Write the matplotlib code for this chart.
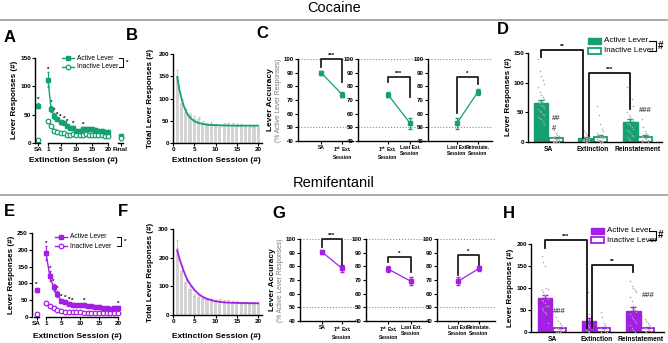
import matplotlib
matplotlib.use('Agg')
import matplotlib.pyplot as plt
import numpy as np
from matplotlib.patches import Rectangle

plt.rcParams['font.family'] = ['Liberation Sans', 'DejaVu Sans']
plt.rcParams['font.weight'] = 'bold'
plt.rcParams['axes.linewidth'] = 1.0
plt.rcParams['mathtext.default'] = 'bf'

GREEN = '#17a06f'
PURPLE = '#a41fe3'
GREY = '#d3d3d3'
DOT = '#a8a8a8'
TICK = 4.6

# ---------------- data: cocaine ----------------
coc_sa_act, coc_sa_act_err, coc_sa_in = 66, 5, 6
coc_ext_act = [112, 60, 48, 42, 37, 36, 30, 27, 27, 22, 22, 25, 25, 25, 24, 23, 22, 21, 20, 20]
coc_ext_act_err = [13, 6, 5, 4, 4, 3, 3, 3, 3, 3, 3, 3, 3, 3, 3, 3, 3, 3, 3, 3]
coc_ext_in = [38, 30, 22, 20, 18, 17, 15, 15, 16, 14, 15, 15, 16, 15, 15, 14, 14, 14, 13, 12]
coc_final_act, coc_final_in = 12, 9
coc_star_sessions = [1, 2, 3, 4, 5, 6, 7, 9, 12]

coc_total = [150, 90, 70, 62, 55, 53, 45, 42, 43, 38, 37, 40, 41, 40, 39, 38, 37, 36, 35, 33]
coc_total_err = [15, 8, 6, 6, 5, 5, 4, 4, 5, 4, 4, 4, 4, 4, 4, 4, 4, 4, 4, 4]
coc_fit_x = [1, 1.5, 2, 2.5, 3, 3.5, 4, 5, 6, 7, 8, 10, 12, 15, 20]
coc_fit_y = [148, 120, 100, 84, 72, 63, 57, 49, 45, 43, 41, 40, 39.5, 39, 39]

coc_acc = [[90, 74], [74, 53], [53, 76]]
coc_acc_err = [[1.5, 2], [2, 4], [4, 2]]
coc_brackets = [(94, 100, 83), (83.5, 87, 72), (60.5, 87, 81.5)]
coc_acc_stars = ['***', '***', '*']

coc_bar_act = [66, 7, 34]
coc_bar_act_err = [5, 1.5, 4]
coc_bar_in = [6, 9, 9]
coc_bar_in_err = [2, 2, 2]
coc_pts_act = [
    [140, 120, 112, 105, 98, 92, 85, 80, 76, 72, 68, 65, 62, 60, 58, 55, 52, 50, 48, 45, 42, 40, 38, 35, 30],
    [25, 18, 15, 12, 10, 9, 8, 7, 6, 5, 5, 4, 3, 3, 2, 2, 1, 0, 0],
    [93, 85, 75, 72, 60, 50, 45, 42, 38, 35, 32, 30, 28, 25, 22, 20, 18, 15, 12, 10, 8, 5, 3],
]
coc_pts_in = [
    [25, 20, 15, 12, 10, 8, 6, 5, 4, 3, 2, 2, 1, 1, 0, 0, 0, 0],
    [60, 45, 30, 22, 18, 15, 12, 10, 8, 6, 5, 4, 3, 2, 2, 1, 1, 0, 0],
    [38, 25, 18, 15, 12, 10, 8, 6, 5, 4, 3, 2, 2, 1, 0, 0],
]

# ---------------- data: remifentanil ----------------
rem_sa_act, rem_sa_act_err, rem_sa_in = 80, 6, 8
rem_ext_act = [190, 122, 88, 68, 48, 45, 40, 37, 35, 35, 36, 33, 32, 31, 30, 27, 26, 25, 28, 28]
rem_ext_act_err = [20, 15, 10, 8, 5, 5, 4, 4, 4, 4, 5, 4, 4, 4, 5, 4, 4, 4, 4, 4]
rem_ext_in = [42, 32, 28, 20, 17, 16, 15, 14, 14, 14, 13, 13, 13, 12, 12, 13, 12, 12, 12, 11]
rem_star_sessions = [1, 2, 3, 4, 5, 6, 7, 8, 11, 20]

rem_total = [235, 155, 115, 90, 65, 62, 55, 52, 50, 48, 50, 46, 45, 44, 42, 40, 38, 37, 40, 40]
rem_total_err = [25, 15, 12, 10, 7, 7, 6, 6, 6, 6, 6, 6, 6, 6, 6, 6, 6, 6, 6, 6]
rem_fit_x = [1, 1.5, 2, 2.5, 3, 3.5, 4, 5, 6, 7, 8, 10, 12, 15, 20]
rem_fit_y = [225, 198, 175, 154, 135, 120, 108, 88, 73, 63, 56, 48, 44, 42, 41]

rem_acc = [[90.5, 78.5], [78, 69], [69, 78.5]]
rem_acc_err = [[1.5, 2.5], [2.5, 3], [3, 2]]
rem_brackets = [(94, 100, 81), (83, 87, 76), (74, 88, 81)]
rem_acc_stars = ['***', '*', '*']

rem_bar_act = [78, 25, 48]
rem_bar_act_err = [7, 7, 8]
rem_bar_in = [8, 10, 10]
rem_bar_in_err = [2, 2, 2]
rem_pts_act = [
    [172, 160, 150, 100, 98, 95, 90, 85, 80, 75, 72, 70, 65, 60, 58, 55, 50, 45, 40, 20],
    [155, 90, 40, 30, 25, 20, 15, 12, 10, 8, 5, 3, 0],
    [115, 105, 100, 95, 90, 80, 70, 60, 50, 45, 40, 35, 30, 25, 20, 15, 10, 5, 0],
]
rem_pts_in = [
    [35, 25, 20, 15, 12, 10, 8, 5, 3, 2, 1, 0, 0],
    [45, 35, 20, 15, 10, 8, 6, 4, 2, 1, 0],
    [30, 25, 20, 15, 12, 10, 8, 6, 5, 3, 2, 0],
]

acc_labels = [['SA', '1$^{st}$ Ext.\nSession'],
              ['1$^{st}$ Ext.\nSession', 'Last Ext.\nSession'],
              ['Last Ext.\nSession', 'Reinstate.\nSession']]
group_labels = ['SA', 'Extinction', 'Reinstatement']

W, H = 668, 343
fig = plt.figure(figsize=(W / 100, H / 100), dpi=100)

ov = fig.add_axes([0, 0, 1, 1])
ov.set_xlim(0, W)
ov.set_ylim(H, 0)
ov.axis('off')


def px_axes(x0, y0, x1, y1):
    ax = fig.add_axes([x0 / W, 1 - y1 / H, (x1 - x0) / W, (y1 - y0) / H])
    ax.patch.set_alpha(0)
    ax.spines[['top', 'right']].set_visible(False)
    ax.tick_params(length=2, width=0.8, pad=1, labelsize=TICK)
    return ax


def session_panel(ax, color, sa_act, sa_err, sa_in, act, act_err, inact, stars, sa_pos, ymax, final=None):
    sess = np.arange(1, len(act) + 1)
    ax.errorbar(sess, inact, color=color, marker='o', ms=3.3, mfc='white', mew=0.9, lw=0.9, zorder=2)
    ax.errorbar(sess, act, yerr=act_err, color=color, marker='s', ms=2.3, lw=1.0,
                capsize=1, elinewidth=0.8, zorder=3)
    ax.errorbar([sa_pos], [sa_act], yerr=[sa_err], color=color, marker='s', ms=2.3, capsize=1, elinewidth=0.8)
    ax.plot([sa_pos], [sa_in], color=color, marker='o', ms=3.3, mfc='white', mew=0.9)
    ax.text(sa_pos, sa_act + sa_err + ymax * 0.01, '*', ha='center', va='bottom', fontsize=4.5)
    for s in stars:
        ax.text(s, act[s - 1] + act_err[s - 1] + ymax * 0.005, '*', ha='center', va='bottom', fontsize=4.5)
    ticks = [sa_pos, 1, 5, 10, 15, 20]
    labels = ['SA', '1', '5', '10', '15', '20']
    ax.spines['bottom'].set_visible(False)
    tr = ax.get_xaxis_transform()
    ax.plot([sa_pos - 0.6, sa_pos + 0.6], [0, 0], color='k', lw=1, transform=tr, clip_on=False)
    ax.plot([1, 20], [0, 0], color='k', lw=1, transform=tr, clip_on=False)
    if final is not None:
        fpos = final[0]
        ax.plot([fpos], [final[1]], color=color, marker='s', ms=2.3)
        ax.plot([fpos], [final[2]], color=color, marker='o', ms=3.3, mfc='white', mew=0.9)
        ax.plot([fpos - 0.8, fpos + 0.8], [0, 0], color='k', lw=1, transform=tr, clip_on=False)
        ticks.append(fpos)
        labels.append('Final')
    ax.set_xticks(ticks)
    ax.set_xticklabels(labels)
    ax.set_ylim(0, ymax)


def total_panel(ax, color, totals, errs, fx, fy, ymax, step):
    sess = np.arange(1, len(totals) + 1)
    ax.bar(sess, totals, width=0.75, color=GREY, yerr=[np.zeros(len(errs)), errs],
           error_kw=dict(ecolor='#c4c4c4', lw=0.6, capsize=1))
    ax.plot(fx, fy, color=color, lw=1.3)
    ax.set_xlim(0, 20.9)
    ax.set_xticks([0, 5, 10, 15, 20])
    ax.set_ylim(0, ymax)
    ax.set_yticks(np.arange(0, ymax + 1, step))


def acc_panel(ax, color, vals, errs, labels, bracket, stars, xlim):
    ax.axhline(100, color='#8a8a8a', ls=':', lw=0.8)
    ax.axhline(50, color='#8a8a8a', ls=':', lw=0.8)
    ax.errorbar([0, 1], vals, yerr=errs, color=color, marker='s', ms=2.3, lw=0.9,
                capsize=1.5, elinewidth=0.8)
    yl, yh, yr = bracket
    ax.plot([0, 0, 1, 1], [yl, yh, yh, yr], color='#222222', lw=1.3, clip_on=False)
    ax.text(0.5, yh + 0.8, stars, ha='center', va='bottom', fontsize=4.5)
    ax.set_ylim(40, 100)
    ax.set_yticks(range(40, 101, 10))
    ax.set_xlim(*xlim)
    ax.set_xticks([0, 1])
    ax.set_xticklabels(labels, fontsize=3.6, linespacing=1.15)
    ax.tick_params(labelsize=4.4)
    ax.tick_params(axis='x', labelsize=3.6)


def lever_bars(ax, color, act, act_err, inact, in_err, pts_act, pts_in, ymax, xlim):
    for g in range(3):
        xa, xi = g - 0.165, g + 0.165
        ax.bar(xa, act[g], width=0.33, color=color, edgecolor=color, lw=1, zorder=2)
        ax.errorbar(xa, act[g], yerr=[[0], [act_err[g]]], color=color, capsize=2, lw=1, zorder=2)
        ax.bar(xi, inact[g], width=0.30, facecolor='white', edgecolor=color, lw=1.3, zorder=2)
        ax.errorbar(xi, inact[g], yerr=[[0], [in_err[g]]], color=color, capsize=2, lw=1, zorder=2)
        for x0, pts in ((xa, pts_act[g]), (xi, pts_in[g])):
            off = ((np.arange(len(pts)) % 5) - 2) * 0.035
            ax.scatter(x0 + off, pts, s=1.2, color=DOT, zorder=4, lw=0)
    ax.set_xlim(*xlim)
    ax.set_ylim(0, ymax)
    ax.set_xticks([0, 1, 2])
    ax.set_xticklabels(group_labels, fontsize=4.8)
    ax.tick_params(axis='x', length=0, pad=3)


def bracket(ax, x0, x1, y0, yh, y1, text):
    ax.plot([x0, x0, x1, x1], [y0, yh, yh, y1], color='#111111', lw=1.3, clip_on=False, zorder=5)
    ax.text((x0 + x1) / 2, yh + 2, text, ha='center', va='bottom', fontsize=4.5)


# ---------------- cocaine row ----------------
axA = px_axes(35, 58, 125, 143)
session_panel(axA, GREEN, coc_sa_act, coc_sa_act_err, coc_sa_in, coc_ext_act, coc_ext_act_err,
              coc_ext_in, coc_star_sessions, -2.2, 150, final=(24.0, coc_final_act, coc_final_in))
axA.set_xlim(-3.1, 25.4)
axA.set_yticks([0, 50, 100, 150])

axB = px_axes(173, 54, 262, 143)
total_panel(axB, GREEN, coc_total, coc_total_err, coc_fit_x, coc_fit_y, 200, 50)

c_boxes = [(298, 353), (358, 425), (428, 492)]
c_xlims = [(-1.1, 1.52), (-1.36, 1.68), (-1.38, 1.67)]
for i, (x0, x1) in enumerate(c_boxes):
    ax = px_axes(x0, 59, x1, 141)
    acc_panel(ax, GREEN, coc_acc[i], coc_acc_err[i], acc_labels[i], coc_brackets[i], coc_acc_stars[i], c_xlims[i])

axD = px_axes(528, 53, 662, 142)
lever_bars(axD, GREEN, coc_bar_act, coc_bar_act_err, coc_bar_in, coc_bar_in_err,
           coc_pts_act, coc_pts_in, 150, (-0.46, 2.55))
axD.set_yticks([0, 50, 100, 150])
bracket(axD, -0.165, 0.78, 143, 155, 7, '**')
bracket(axD, 0.90, 1.835, 10, 116, 55, '***')
axD.text(0.165, 33, '##', ha='center', va='bottom', fontsize=5.5, color='#555555')
axD.text(0.13, 17, '#', ha='center', va='bottom', fontsize=5.5, color='#555555')
axD.text(2.165, 48, '###', ha='center', va='bottom', fontsize=5.5, color='#555555')

# ---------------- remifentanil row ----------------
axE = px_axes(32, 233, 121, 317)
session_panel(axE, PURPLE, rem_sa_act, rem_sa_act_err, rem_sa_in, rem_ext_act, rem_ext_act_err,
              rem_ext_in, rem_star_sessions, -1.5, 250)
axE.set_xlim(-2.7, 20.8)
axE.set_yticks([0, 50, 100, 150, 200, 250])

axF = px_axes(173, 229, 262, 315)
total_panel(axF, PURPLE, rem_total, rem_total_err, rem_fit_x, rem_fit_y, 300, 100)

g_boxes = [(300, 355), (366, 428), (437, 495)]
g_xlims = [(-1.1, 1.65), (-0.96, 1.74), (-1.0, 1.76)]
for i, (x0, x1) in enumerate(g_boxes):
    ax = px_axes(x0, 239, x1, 321)
    acc_panel(ax, PURPLE, rem_acc[i], rem_acc_err[i], acc_labels[i], rem_brackets[i], rem_acc_stars[i], g_xlims[i])

axH = px_axes(531, 244, 664, 332)
lever_bars(axH, PURPLE, rem_bar_act, rem_bar_act_err, rem_bar_in, rem_bar_in_err,
           rem_pts_act, rem_pts_in, 200, (-0.48, 2.53))
axH.set_yticks([0, 50, 100, 150, 200])
bracket(axH, -0.165, 0.78, 191, 209, 9, '***')
bracket(axH, 0.90, 1.835, 9, 152, 136, '**')
axH.text(0.165, 38, '###', ha='center', va='bottom', fontsize=5.5, color='#555555')
axH.text(2.165, 76, '###', ha='center', va='bottom', fontsize=5.5, color='#555555')

# ---------------- titles, letters, labels, legends ----------------
ov.text(334, 8, 'Cocaine', ha='center', va='center', fontsize=10.5, fontweight='normal')
ov.text(334, 183, 'Remifentanil', ha='center', va='center', fontsize=10.5, fontweight='normal')
ov.plot([0, W], [20, 20], color='#9a9a9a', lw=1.2)
ov.plot([0, W], [195, 195], color='#9a9a9a', lw=1.2)

for letter, x, y in [('A', 4, 37), ('B', 126, 35), ('C', 256, 33), ('D', 497, 30),
                     ('E', 4, 212), ('F', 118, 212), ('G', 272, 213), ('H', 503, 213)]:
    ov.text(x, y, letter, ha='left', va='center', fontsize=12, fontweight='bold')

for x, y, txt in [(14, 100, 'Lever Responses (#)'), (150, 98, 'Total Lever Responses (#)'),
                  (508, 97, 'Lever Responses (#)'), (12, 275, 'Lever Responses (#)'),
                  (150, 272, 'Total Lever Responses (#)'), (511, 288, 'Lever Responses (#)')]:
    ov.text(x, y, txt, ha='center', va='center', rotation=90, fontsize=5.8)

for x, yc in [(270, 100), (272, 280)]:
    ov.text(x, yc, 'Lever Accuracy', ha='center', va='center', rotation=90, fontsize=6)
    ov.text(x + 8, yc, '(% Active Lever Responses)', ha='center', va='center', rotation=90,
            fontsize=4.8, fontweight='normal', color='#777777')

for x, y in [(73, 161), (216, 161), (77, 337), (216, 336)]:
    ov.text(x, y, 'Extinction Session (#)', ha='center', va='center', fontsize=6)


def line_legend(color, x0, y_act, y_in, xb, text_x):
    ov.plot([x0, x0 + 12], [y_act, y_act], color=color, lw=1)
    ov.plot([x0 + 6], [y_act], color=color, marker='s', ms=2.3)
    ov.plot([x0, x0 + 12], [y_in, y_in], color=color, lw=1)
    ov.plot([x0 + 6], [y_in], color=color, marker='o', ms=3.3, mfc='white', mew=0.9)
    ov.text(x0 + 15, y_act, 'Active Lever', ha='left', va='center', fontsize=4.8, fontweight='normal')
    ov.text(x0 + 15, y_in, 'Inactive Lever', ha='left', va='center', fontsize=4.8, fontweight='normal')
    ov.plot([xb - 4, xb, xb, xb - 4], [y_act, y_act, y_in, y_in], color='k', lw=0.7)
    ov.text(text_x, (y_act + y_in) / 2, '*', ha='left', va='center', fontsize=4.5)


def box_legend(color, x0, y_act, y_in, xb):
    ov.add_patch(Rectangle((x0, y_act - 3), 13, 6, facecolor=color, edgecolor=color, lw=1))
    ov.add_patch(Rectangle((x0, y_in - 3), 13, 6, facecolor='white', edgecolor=color, lw=1.3))
    ov.text(x0 + 16, y_act, 'Active Lever', ha='left', va='center', fontsize=5.8, fontweight='normal')
    ov.text(x0 + 16, y_in, 'Inactive Lever', ha='left', va='center', fontsize=5.8, fontweight='normal')
    ov.plot([xb - 7, xb, xb, xb - 7], [y_act, y_act, y_in, y_in], color='k', lw=0.8)
    ov.text(xb + 2, (y_act + y_in) / 2, '#', ha='left', va='center', fontsize=7)


line_legend(GREEN, 62, 58, 67, 123, 126)
line_legend(PURPLE, 55, 237, 246, 121, 124)
box_legend(GREEN, 588, 41, 51, 656)
box_legend(PURPLE, 591, 231, 240, 656)

plt.savefig('out.png', dpi=100)
